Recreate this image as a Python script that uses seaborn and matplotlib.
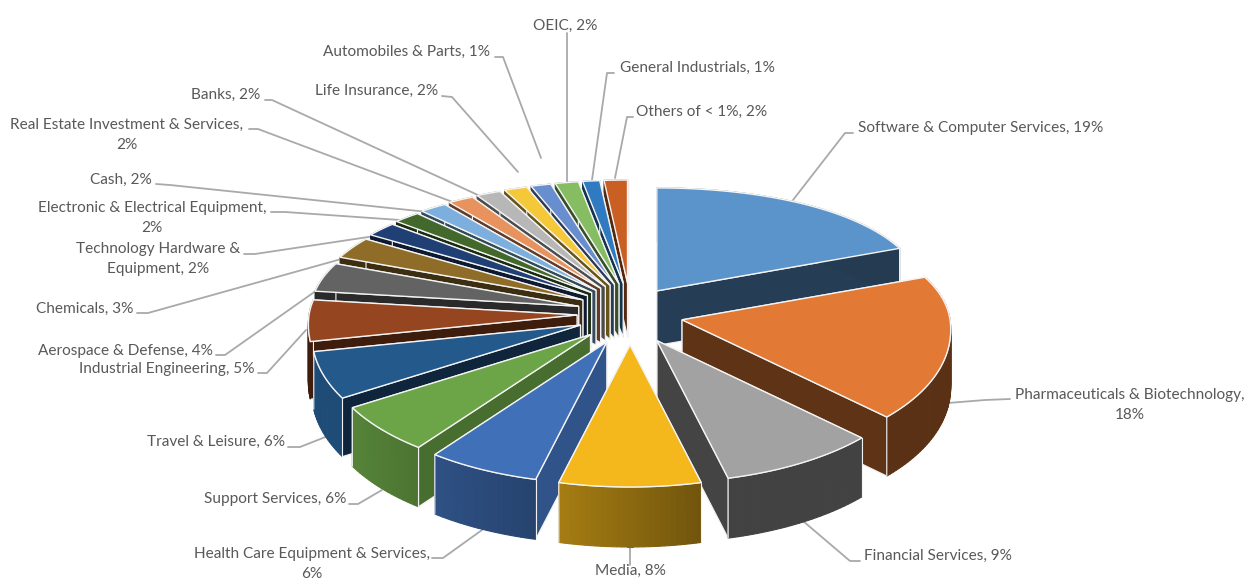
import numpy as np
import matplotlib
matplotlib.use("Agg")
import matplotlib.pyplot as plt
import matplotlib.colors as mc
import seaborn as sns

categories = ["Software & Computer Services", "Pharmaceuticals & Biotechnology", "Financial Services",
              "Media", "Health Care Equipment & Services", "Support Services", "Travel & Leisure",
              "Industrial Engineering", "Aerospace & Defense", "Chemicals", "Technology Hardware & Equipment",
              "Electronic & Electrical Equipment", "Cash", "Real Estate Investment & Services", "Banks",
              "Life Insurance", "Automobiles & Parts", "OEIC", "General Industrials", "Others of < 1%"]
values = [19, 18, 9, 8, 6.4, 6, 5.6, 5.0, 4.0, 3.1, 2.1, 1.8, 1.8, 1.7, 1.6, 1.5, 1.3, 1.5, 1.1, 1.5]
colors = ["#5B93CB", "#E27A35", "#A2A2A2", "#F4B81C", "#4070B8", "#6BA547", "#24598C", "#95451F", "#636363",
          "#8F6D28", "#1F3F75", "#43682B", "#7CAFDD", "#E8925E", "#B7B7B7", "#F5C83A", "#698ED0", "#86BD62",
          "#2F7AC0", "#C95F22"]
label_texts = ["Software & Computer Services, 19%", "Pharmaceuticals & Biotechnology,\n18%", "Financial Services, 9%",
               "Media, 8%", "Health Care Equipment & Services,\n6%", "Support Services, 6%", "Travel & Leisure, 6%",
               "Industrial Engineering, 5%", "Aerospace & Defense, 4%", "Chemicals, 3%",
               "Technology Hardware &\nEquipment, 2%", "Electronic & Electrical Equipment,\n2%", "Cash, 2%",
               "Real Estate Investment & Services,\n2%", "Banks, 2%", "Life Insurance, 2%", "Automobiles & Parts, 1%",
               "OEIC, 2%", "General Industrials, 1%", "Others of < 1%, 2%"]

# layout: label centre and leader polyline, in figure pixels
label_pos = [(981, 128), (1130, 405), (938, 556), (630, 571), (312, 564), (275, 499), (216, 442), (167, 369),
             (125, 351), (85, 309), (158, 259), (152, 218), (121, 180), (127, 135), (226, 95), (377, 91), (407, 52),
             (565, 26), (697, 68), (702, 112)]
leaders = [[(853, 133), (845, 133), (793, 200)], [(1010, 399), (985, 400), (948, 403)],
           [(860, 561), (850, 561), (803, 521)], [(630, 565), (630, 547)], [(432, 558), (443, 558), (482, 530)],
           [(349, 504), (358, 504), (382, 490)], [(288, 447), (300, 447), (328, 436)],
           [(258, 373), (267, 373), (306, 330)], [(216, 355), (225, 355), (320, 288)],
           [(137, 313), (148, 313), (345, 258)], [(244, 254), (255, 254), (375, 236)],
           [(271, 212), (285, 212), (400, 220)], [(156, 184), (170, 185), (428, 212)],
           [(249, 129), (258, 129), (458, 204)], [(265, 100), (272, 100), (480, 196)],
           [(442, 96), (452, 97), (518, 172)], [(495, 57), (503, 57), (541, 158)], [(567, 33), (567, 183)],
           [(614, 73), (607, 73), (592, 180)], [(633, 117), (627, 117), (615, 178)]]

sns.set_theme(style="white")
plt.rcParams["font.family"] = ["Lato", "DejaVu Sans"]
palette = sns.color_palette(colors)

W, H = 1249, 579
fig = plt.figure(figsize=(W / 100, H / 100), dpi=100)
ax = fig.add_axes([0, 0, 1, 1])
ax.set_xlim(0, W)
ax.set_ylim(H, 0)
ax.axis("off")

CX, CY, EX, EY = 630, 314, 53, 31
RX = 268
EDGE = "#F2F2F2"
explode_scale = {0: 0.9}
radial_shade = {3: 0.48, 4: 0.75, 5: 0.66}
arc_shade = {0: (0.4, 0.4), 1: (0.4, 0.4), 2: (0.41, 0.41), 3: (0.68, 0.46), 4: (0.72, 0.6), 5: (0.8, 0.7),
             6: (0.85, 0.85)}


def darken(c, f):
    return tuple(np.array(mc.to_rgb(c)) * f)


def rim(th):
    a = np.radians(th)
    y = np.cos(a)
    return RX * np.sin(a) * (1 - 0.07 * y), -y * np.where(y >= 0, 123 - 20 * y, 142.0)


def wall_h(th):
    return 57 - 3 * np.cos(np.radians(th))


fr = np.array(values) / np.sum(values) * 360
ends = np.cumsum(fr)
starts = ends - fr
mids = (starts + ends) / 2
order = np.argsort(-np.cos(np.radians(mids)))

z = 10
for i in order:
    t1, t2, tm, col = starts[i], ends[i], mids[i], palette[i]
    e = explode_scale.get(i, 1.0)
    ax_, ay_ = CX + e * EX * np.sin(np.radians(tm)), CY - e * EY * np.cos(np.radians(tm))
    ths = np.linspace(t1, t2, max(int(fr[i] / 1.0), 5))
    rx, ry = rim(ths)
    ox, oy = ax_ + rx, ay_ + ry
    hs = wall_h(ths)
    h0 = wall_h(tm)
    side = darken(col, radial_shade.get(i, 0.42))
    edges = sorted([(ox[0], oy[0], hs[0]), (ox[-1], oy[-1], hs[-1])], key=lambda q: q[1])
    for ex, ey, eh in edges:
        z += 1
        ax.fill([ax_, ex, ex, ax_], [ay_, ey, ey + eh, ay_ + h0], facecolor=side, edgecolor=EDGE, lw=0.9, zorder=z)
    hi, lo = arc_shade.get(i, (0.42, 0.42))
    for k in range(len(ths) - 1):
        # shade runs from the left end of the arc to the right end
        xm = (ox[k] + ox[k + 1]) / 2
        u = (xm - ox.min()) / (ox.max() - ox.min())
        shade = darken(col, hi + (lo - hi) * u)
        z += 1
        ax.fill([ox[k], ox[k + 1], ox[k + 1], ox[k]], [oy[k], oy[k + 1], oy[k + 1] + hs[k + 1], oy[k] + hs[k]],
                facecolor=shade, edgecolor=shade, lw=0.8, zorder=z)
    z += 1
    ax.plot(np.r_[ox, ox[-1]], np.r_[oy, oy[-1] + hs[-1]], color=EDGE, lw=0.8, zorder=z)
    if i <= 6:
        ax.plot([ox[0], ox[0]], [oy[0], oy[0] + hs[0]], color=EDGE, lw=0.8, zorder=z)
    z += 1
    ax.fill(np.r_[ax_, ox], np.r_[ay_, oy], facecolor=col, edgecolor="#F4F4F4", lw=1.0, zorder=z)

for txt, (x, y), pts in zip(label_texts, label_pos, leaders):
    p = np.array(pts)
    ax.plot(p[:, 0], p[:, 1], color="#A9A9A9", lw=1.3, zorder=1)
    ax.text(x, y, txt, ha="center", va="center", fontsize=11.1, color="#595959", linespacing=1.5, zorder=z + 5)

fig.savefig("out.png", dpi=100)
